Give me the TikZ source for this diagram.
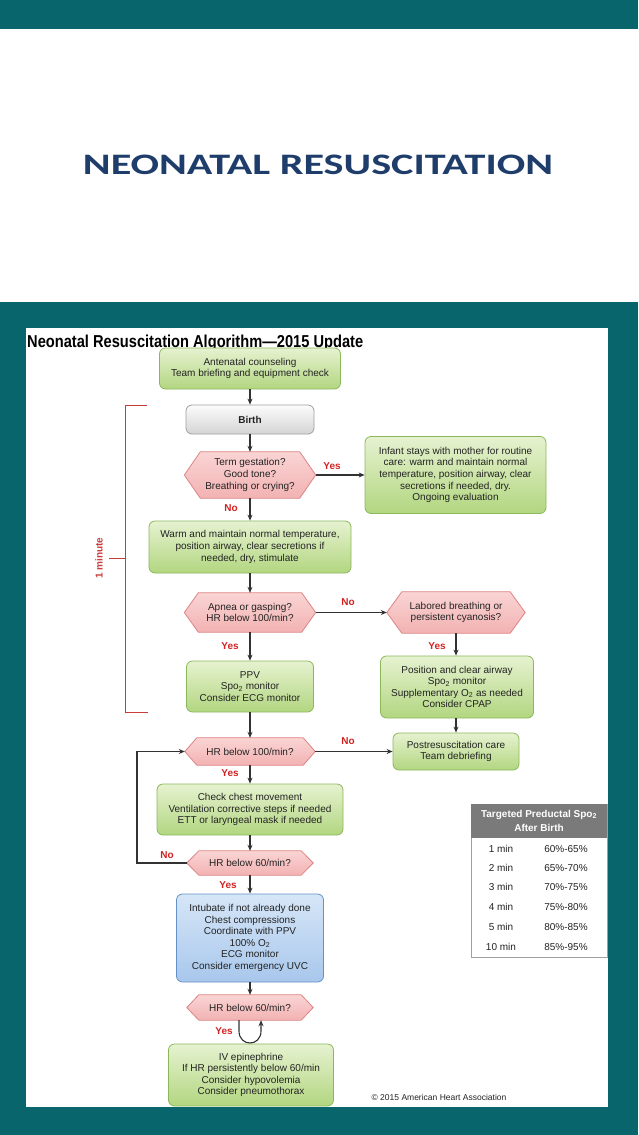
\documentclass[tikz,border=0pt]{standalone}
\usepackage{fontspec}
\usepackage{graphicx}
\setmainfont{Liberation Sans}
\newfontfamily\carlito{Carlito}
\usetikzlibrary{arrows.meta,backgrounds}
\definecolor{tealbg}{RGB}{8,101,107}
\definecolor{titleblue}{RGB}{31,61,107}
\definecolor{gtop}{RGB}{230,242,208}
\definecolor{gbot}{RGB}{178,214,128}
\definecolor{gline}{RGB}{140,184,92}
\definecolor{ptop}{RGB}{250,212,212}
\definecolor{pbot}{RGB}{242,178,178}
\definecolor{pline}{RGB}{222,132,132}
\definecolor{graytop}{RGB}{252,252,252}
\definecolor{graybot}{RGB}{212,212,212}
\definecolor{grayline}{RGB}{160,160,160}
\definecolor{btop}{RGB}{214,230,247}
\definecolor{bbot}{RGB}{168,199,236}
\definecolor{bline}{RGB}{100,145,200}
\definecolor{labred}{RGB}{210,35,35}
\definecolor{brred}{RGB}{200,60,60}
\definecolor{hdrgray}{RGB}{122,122,122}
\definecolor{txt}{RGB}{35,35,35}
\definecolor{arrgray}{RGB}{50,50,50}
\newcommand\hexdraw[2]{%
  \begin{pgfonlayer}{background}
  \draw[hexline] (#1.west) -- ([xshift=#2]#1.north west) -- ([xshift=-#2]#1.north east) -- (#1.east)
     -- ([xshift=-#2]#1.south east) -- ([xshift=#2]#1.south west) -- cycle;
  \end{pgfonlayer}}
\begin{document}
\begin{tikzpicture}[x=1pt,y=-1pt,
  boxtext/.style={align=center,inner sep=0pt,text=txt,font=\fontsize{10}{11.6}\selectfont},
  gbox/.style={boxtext,rounded corners=6pt,draw=gline,line width=0.8pt,top color=gtop,bottom color=gbot},
  graybox/.style={boxtext,rounded corners=6pt,draw=grayline,line width=0.8pt,top color=graytop,bottom color=graybot},
  bluebox/.style={boxtext,rounded corners=6pt,draw=bline,line width=0.8pt,top color=btop,bottom color=bbot},
  hexnode/.style={boxtext},
  hexline/.style={draw=pline,line width=0.8pt,top color=ptop,bottom color=pbot},
  arr/.style={draw=arrgray,line width=1.1pt,-{Stealth[length=6pt,width=5pt]}},
  lab/.style={text=labred,font=\fontsize{10}{12}\selectfont\bfseries,inner sep=0pt},
  brk/.style={draw=brred,line width=0.9pt},
  cell/.style={inner sep=0pt,text=txt,font=\fontsize{10}{12}\selectfont}
]
\useasboundingbox (0,0) rectangle (638,1135);
% background
\begin{pgfonlayer}{background}
\fill[tealbg] (0,0) rectangle (638,29);
\fill[tealbg] (0,302) rectangle (638,1135);
\fill[white] (26,328) rectangle (608,1107);
\end{pgfonlayer}

\node[anchor=base,inner sep=0pt,text=titleblue] (maintitle) at (318,174)
  {\resizebox{470pt}{19.5pt}{\carlito\bfseries NEONATAL RESUSCITATION}};
\node[anchor=base west,inner sep=0pt,text=black] (algtitle) at (27,347)
  {\resizebox{336pt}{12.5pt}{\bfseries Neonatal Resuscitation Algorithm\textemdash 2015 Update}};

% main column
\node[gbox,minimum width=181pt,minimum height=41pt] (ante) at (250,368.5)
  {Antenatal counseling\\Team briefing and equipment check};
\node[graybox,minimum width=128pt,minimum height=29pt] (birth) at (250,419.5) {\bfseries Birth};
\node[hexnode,minimum width=131pt,minimum height=46pt] (term) at (250,475)
  {Term gestation?\\Good tone?\\Breathing or crying?};
\hexdraw{term}{16pt}
\node[gbox,minimum width=181pt,minimum height=77pt] (infant) at (455.5,475)
  {Infant stays with mother for routine\\care: warm and maintain normal\\temperature, position airway, clear\\secretions if needed, dry.\\Ongoing evaluation};
\node[gbox,minimum width=202pt,minimum height=52pt] (warm) at (250,547)
  {Warm and maintain normal temperature,\\position airway, clear secretions if\\needed, dry, stimulate};
\node[hexnode,minimum width=131pt,minimum height=39pt] (apnea) at (250,612.5)
  {Apnea or gasping?\\HR below 100/min?};
\hexdraw{apnea}{14pt}
\node[hexnode,minimum width=138pt,minimum height=41pt] (labored) at (456,612.5)
  {Labored breathing or\\persistent cyanosis?};
\hexdraw{labored}{15pt}
\node[gbox,minimum width=127pt,minimum height=51pt] (ppv) at (250,686.5)
  {PPV\\Spo\textsubscript{2} monitor\\Consider ECG monitor};
\node[gbox,minimum width=153pt,minimum height=62pt] (pos) at (457,687)
  {Position and clear airway\\Spo\textsubscript{2} monitor\\Supplementary O\textsubscript{2} as needed\\Consider CPAP};
\node[hexnode,minimum width=130pt,minimum height=27pt] (hr100) at (250,751.5) {HR below 100/min?};
\hexdraw{hr100}{12pt}
\node[gbox,minimum width=126pt,minimum height=37pt] (post) at (456,751.5)
  {Postresuscitation care\\Team debriefing};
\node[gbox,minimum width=186pt,minimum height=51pt] (chest) at (250,809.5)
  {Check chest movement\\Ventilation corrective steps if needed\\ETT or laryngeal mask if needed};
\node[hexnode,minimum width=126pt,minimum height=24pt] (hr60) at (250,863) {HR below 60/min?};
\hexdraw{hr60}{12pt}
\node[bluebox,minimum width=147pt,minimum height=88pt] (blue) at (250,938)
  {Intubate if not already done\\Chest compressions\\Coordinate with PPV\\100\% O\textsubscript{2}\\ECG monitor\\Consider emergency UVC};
\node[hexnode,minimum width=126pt,minimum height=25pt] (hr60b) at (250,1007.5) {HR below 60/min?};
\hexdraw{hr60b}{12pt}
\node[gbox,minimum width=165pt,minimum height=62pt] (iv) at (251,1075)
  {IV epinephrine\\If HR persistently below 60/min\\Consider hypovolemia\\Consider pneumothorax};

% connectors
\draw[arr] (ante.south) -- (birth.north);
\draw[arr] (birth.south) -- (term.north);
\draw[arr] (term.east) -- (term.east -| infant.west);
\draw[arr] (term.south) -- (warm.north);
\draw[arr] (warm.south) -- (apnea.north);
\draw[arr] (apnea.east) -- (apnea.east -| labored.west);
\draw[arr] (apnea.south) -- (ppv.north);
\draw[arr] (labored.south) -- (labored.south |- pos.north);
\draw[arr] (ppv.south) -- (hr100.north);
\draw[arr] (pos.south -| post.north) -- (post.north);
\draw[arr] (hr100.east) -- (hr100.east -| post.west);
\draw[arr] (hr100.south) -- (chest.north);
\draw[arr] (chest.south) -- (hr60.north);
\draw[arr] (hr60.south) -- (blue.north);
\draw[arr] (blue.south) -- (hr60b.north);
\coordinate (loopx) at (137,863);
\draw[arr] (hr60.west) -- (loopx) |- (hr100.west);
\coordinate (uA) at (239,1031);
\coordinate (uB) at (261,1031);
\draw[arr] (hr60b.south -| uA) -- (uA) .. controls (239,1047) and (261,1047) .. (uB) -- (hr60b.south -| uB);

% labels
\node[lab] (y1) at (332,466) {Yes};
\node[lab] (n1) at (231,508) {No};
\node[lab] (n2) at (348,602) {No};
\node[lab] (y2) at (230,646) {Yes};
\node[lab] (y3) at (437,646) {Yes};
\node[lab] (n3) at (348,741) {No};
\node[lab] (y4) at (230,773) {Yes};
\node[lab] (n4) at (167,855) {No};
\node[lab] (y5) at (228,885) {Yes};
\node[lab] (y6) at (224,1031) {Yes};

% 1 minute bracket
\coordinate (bt) at (147,405);
\coordinate (bb) at (148,712);
\draw[brk] (bt) -- (125,405) -- (125,712) -- (bb);
\coordinate (bm) at (109,558);
\draw[brk] (bm) -- (125,558);
\node[lab,text=brred,rotate=90] (onemin) at (99,558) {1 minute};

% table
\node[draw=grayline,line width=0.8pt,fill=white,minimum width=136pt,minimum height=153pt,inner sep=0pt] (tbl) at (539,880.5) {};
\node[fill=hdrgray,minimum width=136pt,minimum height=34pt,inner sep=0pt,anchor=north,align=center,text=white,
  font=\fontsize{10}{14}\selectfont\bfseries] (tblh) at (tbl.north) {Targeted Preductal Spo\textsubscript{2}\\After Birth};
\node[cell] (r1a) at (501,849) {1 min};  \node[cell] (r1b) at (566,849) {60\%-65\%};
\node[cell] (r2a) at (501,868) {2 min};  \node[cell] (r2b) at (566,868) {65\%-70\%};
\node[cell] (r3a) at (501,887) {3 min};  \node[cell] (r3b) at (566,887) {70\%-75\%};
\node[cell] (r4a) at (501,907) {4 min};  \node[cell] (r4b) at (566,907) {75\%-80\%};
\node[cell] (r5a) at (501,927) {5 min};  \node[cell] (r5b) at (566,927) {80\%-85\%};
\node[cell] (r6a) at (501,947) {10 min}; \node[cell] (r6b) at (566,947) {85\%-95\%};

\node[inner sep=0pt,text=txt,font=\fontsize{8.5}{10}\selectfont] (copy) at (439,1097) {\textcopyright\ 2015 American Heart Association};
\end{tikzpicture}
\end{document}
